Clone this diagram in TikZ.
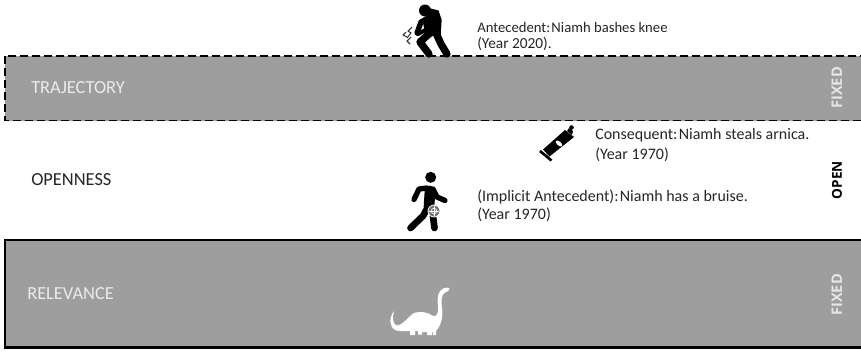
\documentclass[tikz,border=0pt]{standalone}
\usepackage{fontspec}
\setmainfont{Carlito}
\newfontfamily\bandfont{Open Sans}
\begin{document}
\begin{tikzpicture}[x=0.75pt,y=-0.75pt,
  band/.style={fill=black!38,draw=black},
  lab/.style={anchor=west,inner sep=0pt,font=\fontsize{12}{14}\selectfont,text=black!85},
  labsmall/.style={lab,font=\fontsize{11}{13}\selectfont},
  caplab/.style={anchor=west,inner sep=0pt,font=\fontsize{13.8}{15}\selectfont,text=black!85},
  bandlab/.style={caplab,text=white!92!black},
  side/.style={rotate=90,inner sep=0pt,font=\bandfont\fontsize{11}{13}\selectfont\bfseries,text=white!90!black},
  limb/.style={line cap=round,line join=round,draw=black}]
\useasboundingbox (0,0) rectangle (861,351);
\fill[white] (0,0) rectangle (861,351);
% bands
\path[band,line width=1.3pt,dash pattern=on 6pt off 3pt] (5,56) rectangle (870,120.5);
\path[band,line width=1.7pt] (5,240) rectangle (870,347.5);
% labels
\node[bandlab] (traj) at (31,88) {TRAJECTORY};
\node[caplab] (open) at (31,180) {OPENNESS};
\node[bandlab] (rel) at (27,294) {RELEVANCE};
\node[side] (f1) at (837,88) {FIXED};
\node[side,text=black,font=\bandfont\fontsize{10.2}{12}\selectfont\bfseries] (o1) at (837,180) {OPEN};
\node[side] (f2) at (837,295) {FIXED};
\node[labsmall] (a1) at (477,27) {Antecedent:\hspace{0.08em}Niamh bashes knee};
\node[labsmall,font=\fontsize{11.5}{13}\selectfont] (a2) at (477,44) {(Year 2020).};
\node[lab] (c1) at (595,135) {Consequent:\hspace{0.08em}Niamh steals arnica.};
\node[lab] (c2) at (595,155) {(Year 1970)};
\node[lab] (i1) at (477,197) {(Implicit Antecedent):\hspace{0.08em}Niamh has a bruise.};
\node[lab] (i2) at (477,215) {(Year 1970)};
% injured person
\fill (425,10.5) circle (6);
\fill[limb,line width=1pt] (430,9) -- (438,11) -- (441,20) -- (440,35) -- (426,36) -- (424,24) -- cycle;
\draw[limb,line width=5.5pt] (436,33) -- (441,44) -- (447,54);
\draw[limb,line width=5.5pt] (430,33) -- (420,42) -- (429,54);
\draw[limb,line width=4pt] (430,17) -- (421,22) -- (417,33);
\draw[limb,line width=3pt] (436,20) -- (431,27) -- (418,34);
\draw[line width=0.8pt,black!80] (412,27) -- (408,31) -- (411,33) -- (407,38);
\draw[line width=0.8pt,black!80] (406,32) -- (403,35) -- (407,37);
\draw[line width=0.8pt,black!80] (411,37) -- (407,41) -- (410,44);
% arnica tube
\fill (565,130) -- (574,137) -- (549.5,156.5) -- (543,149.5) -- cycle;
\draw[line width=2pt] (540,151) -- (551.5,160.5);
\fill (567,131) -- (572,135) -- (573,131) -- (569,128) -- cycle;
\fill (571.5,127.5) circle (2.3);
\fill[white,rotate around={-40:(559,143.5)}] (559,143.5) ellipse (4 and 2);
% walking person
\fill (430.7,177.3) circle (5.5);
\draw[limb,line width=8pt] (430,191) -- (429,207);
\draw[limb,line width=4pt] (427,188) -- (419,189) -- (414,199.5);
\draw[limb,line width=4pt] (433,189) -- (437,197) -- (445,200.5);
\draw[limb,line width=5pt] (428,207) -- (423,216) -- (410.5,228);
\draw[limb,line width=5pt] (432,208) -- (434.5,228);
\fill[black!55,draw=white,line width=0.6pt] (434,211) circle (6);
\draw[white,line width=0.5pt] (434,206) -- (434,216) (429,211) -- (439,211);
\draw[white,line width=0.5pt] (434,211) circle (2.8);
% dinosaur
\fill[white] (394,311) .. controls (389,318) and (389,326) .. (395,330)
  .. controls (400,332) and (406,331) .. (410,331) -- (410,335) -- (415,335) -- (415,331)
  -- (418,331) -- (418,334.5) -- (422,334.5) -- (422,332) -- (427,332) -- (427,335) -- (432,335) -- (432,332) -- (433,332) -- (433,335) -- (436,335) -- (436,331)
  .. controls (442,324) and (443,316) .. (442,308)
  .. controls (441,301) and (441,295) .. (445,292.5)
  .. controls (447,292) and (449,291) .. (449.5,289)
  .. controls (449,287) and (445,287.5) .. (443,288.5)
  .. controls (438,291) and (437,298) .. (438,306)
  .. controls (439,312) and (437,317) .. (433,316)
  .. controls (428,312) and (420,311) .. (414,313)
  .. controls (409,316) and (403,325) .. (397,325.5)
  .. controls (393,325) and (392,318) .. (394,311) -- cycle;
\end{tikzpicture}
\end{document}
